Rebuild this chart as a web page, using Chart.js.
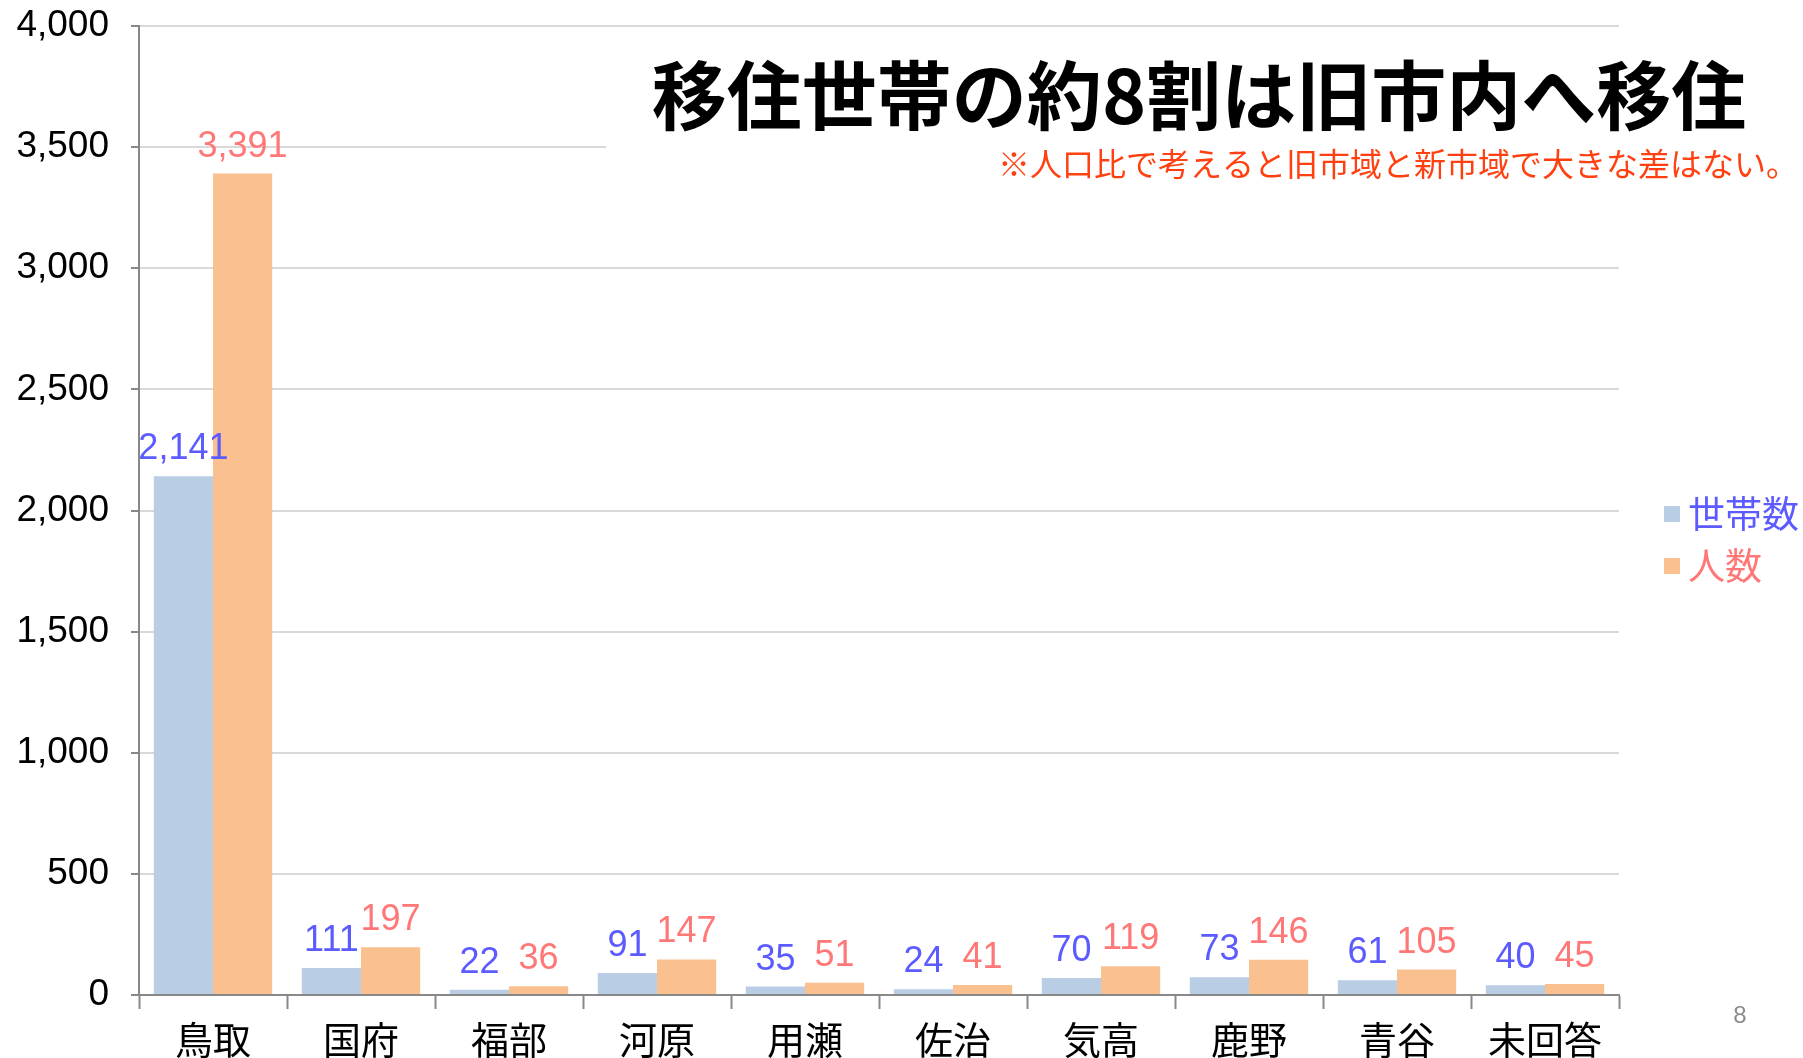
<!DOCTYPE html>
<html><head><meta charset="utf-8">
<script src="https://cdn.jsdelivr.net/npm/chart.js@4"></script>
<style>html,body{margin:0;padding:0;background:#fff;overflow:hidden}canvas{display:block}</style>
</head><body>
<canvas id="c" width="1803" height="1058"></canvas>
<script>
const categories = ['鳥取','国府','福部','河原','用瀬','佐治','気高','鹿野','青谷','未回答'];
const households = [2141,111,22,91,35,24,70,73,61,40];
const people = [3391,197,36,147,51,41,119,146,105,45];
const seriesNames = ['世帯数','人数'];
const titleText = '移住世帯の約8割は旧市内へ移住';
const subtitleText = '※人口比で考えると旧市域と新市域で大きな差はない。';
const pageNumber = '8';

const NUMF = '"Liberation Sans","Noto Sans CJK JP",sans-serif';
const JPF = '"Noto Sans CJK JP",sans-serif';
const barColors = ['#b9cde5','#fac090'];
const labelColors = ['#5b5bff','#ff7878'];

const overlay = {
  id:'overlay',
  afterDatasetsDraw(chart){
    const ctx = chart.ctx;
    ctx.save();
    ctx.textAlign='center'; ctx.textBaseline='alphabetic';
    ctx.font = '36px '+NUMF;
    chart.data.datasets.forEach((ds,i)=>{
      const meta = chart.getDatasetMeta(i);
      meta.data.forEach((bar,j)=>{
        ctx.fillStyle = labelColors[i];
        ctx.fillText(ds.data[j].toLocaleString('en-US'), bar.x, bar.y-17);
      });
    });
    ctx.restore();
  },
  afterDraw(chart){
    const ctx = chart.ctx;
    ctx.save();
    ctx.fillStyle='#fff';
    ctx.fillRect(606,40,1197,145);
    ctx.fillStyle='#000';
    ctx.textAlign='center'; ctx.textBaseline='middle';
    ctx.font='bold 75px '+JPF;
    ctx.fillText(titleText, 1199, 95);
    ctx.fillStyle='#ff4010';
    ctx.font='32px '+JPF;
    ctx.fillText(subtitleText, 1398, 164);
    // legend
    ctx.textAlign='left';
    ctx.font='37px '+JPF;
    const ly=[514,566];
    chart.data.datasets.forEach((ds,i)=>{
      ctx.fillStyle=barColors[i];
      ctx.fillRect(1664, ly[i]-8, 16, 16);
      ctx.fillStyle=labelColors[i];
      ctx.fillText(ds.label, 1688, ly[i]);
    });
    ctx.fillStyle='#8c8c8c';
    ctx.textAlign='center';
    ctx.font='24px '+NUMF;
    ctx.fillText(pageNumber, 1740, 1016);
    ctx.restore();
  }
};

new Chart(document.getElementById('c'),{
  type:'bar',
  data:{
    labels:categories,
    datasets:[
      {label:seriesNames[0],data:households,backgroundColor:barColors[0]},
      {label:seriesNames[1],data:people,backgroundColor:barColors[1]}
    ]
  },
  options:{
    responsive:false,animation:false,devicePixelRatio:1,
    layout:{padding:{left:0,right:184,top:26,bottom:0}},
    datasets:{bar:{categoryPercentage:0.8,barPercentage:1.0}},
    plugins:{legend:{display:false},tooltip:{enabled:false}},
    scales:{
      x:{
        grid:{drawOnChartArea:false,drawTicks:true,tickLength:14,tickColor:'#888',tickWidth:2,offset:true},
        border:{color:'#888',width:2},
        ticks:{color:'#000',font:{family:JPF,size:38},padding:8},
        afterFit(s){s.height=63;s.paddingLeft=0;s.paddingRight=0;}
      },
      y:{
        min:0,max:4000,
        grid:{color:'#d9d9d9',lineWidth:2,tickLength:8,tickColor:'#888',tickWidth:2},
        border:{color:'#888',width:2},
        ticks:{stepSize:500,color:'#000',font:{family:NUMF,size:37},padding:22,
          callback:v=>v.toLocaleString('en-US')},
        afterFit(s){s.width=139;s.paddingTop=0;s.paddingBottom=0;}
      }
    }
  },
  plugins:[overlay]
});
</script>
</body></html>
